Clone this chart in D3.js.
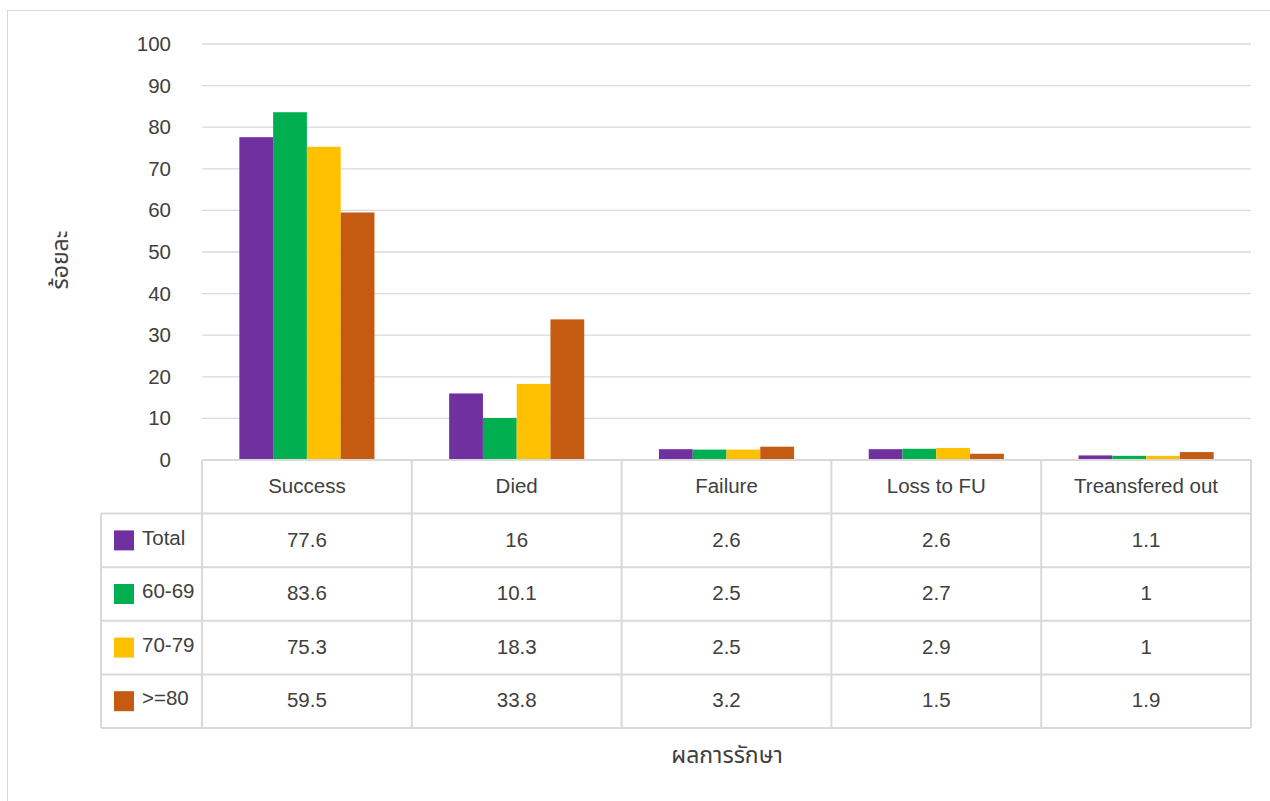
<!DOCTYPE html>
<html><head><meta charset="utf-8">
<script src="https://cdn.jsdelivr.net/npm/d3@7"></script>
<style>
body{margin:0;background:#fff;}
text{font-family:"Liberation Sans","Noto Sans Thai","Noto Sans",Arial,sans-serif;fill:#404040;}
</style></head>
<body><svg id="c" width="1270" height="801"></svg>
<script>
const categories = ["Success","Died","Failure","Loss to FU","Treansfered out"];
const seriesNames = ["Total","60-69","70-79",">=80"];
const total = [77.6,16,2.6,2.6,1.1];
const age6069 = [83.6,10.1,2.5,2.7,1];
const age7079 = [75.3,18.3,2.5,2.9,1];
const age80 = [59.5,33.8,3.2,1.5,1.9];
const yTicks = [0,10,20,30,40,50,60,70,80,90,100];
const colors = ["#7030A0","#00B050","#FFC000","#C55A11"];
const seriesValues = [total, age6069, age7079, age80];

const svg = d3.select("#c");
const L=202, R=1251, T=44, B=460, legL=101, rowH=53.6;
const FS = 20.5;
svg.append("rect").attr("x",7.5).attr("y",10.5).attr("width",1280).attr("height",800)
  .attr("fill","none").attr("stroke","#d9d9d9");

const x = d3.scaleBand().domain(categories).range([L,R]);
const y = d3.scaleLinear().domain([0,100]).range([B,T]);
const bw = x.bandwidth();
const xs = d3.scaleBand().domain(seriesNames).range([bw*0.178,bw*0.822]);

// gridlines
svg.append("g").selectAll("line").data(yTicks.filter(d=>d>0)).join("line")
  .attr("x1",L).attr("x2",R).attr("y1",d=>y(d)).attr("y2",d=>y(d))
  .attr("stroke","#d9d9d9").attr("stroke-width",1.3);

// y axis labels
const ya = svg.append("g").attr("transform",`translate(${L},0)`)
  .call(d3.axisLeft(y).tickValues(yTicks).tickSize(0).tickPadding(31));
ya.select(".domain").remove();
ya.selectAll("text").attr("font-size",FS).style("fill","#404040")
  .attr("font-family","Liberation Sans, Arial, sans-serif");

// bars
seriesNames.forEach((s,i)=>{
  svg.append("g").selectAll("rect").data(categories).join("rect")
    .attr("x",c=>x(c)+xs(s)).attr("width",xs.bandwidth())
    .attr("y",(c,j)=>y(seriesValues[i][j])).attr("height",(c,j)=>B-y(seriesValues[i][j]))
    .attr("fill",colors[i]);
});

// table
const g = svg.append("g");
const stroke = "#d9d9d9", sw = 2;
const tBottom = B + rowH*5;
g.append("line").attr("x1",L).attr("x2",R).attr("y1",B).attr("y2",B).attr("stroke",stroke).attr("stroke-width",sw);
for(let r=1;r<=5;r++){
  g.append("line").attr("x1",legL).attr("x2",R).attr("y1",B+rowH*r).attr("y2",B+rowH*r).attr("stroke",stroke).attr("stroke-width",sw);
}
g.append("line").attr("x1",legL).attr("x2",legL).attr("y1",B+rowH).attr("y2",tBottom).attr("stroke",stroke).attr("stroke-width",sw);
categories.forEach(c=>{
  g.append("line").attr("x1",x(c)).attr("x2",x(c)).attr("y1",B).attr("y2",tBottom).attr("stroke",stroke).attr("stroke-width",sw);
});
g.append("line").attr("x1",R).attr("x2",R).attr("y1",B).attr("y2",tBottom).attr("stroke",stroke).attr("stroke-width",sw);

g.selectAll("text.h").data(categories).join("text").attr("class","h")
  .attr("x",c=>x(c)+bw/2).attr("y",B+rowH/2-1).attr("dy","0.35em")
  .attr("text-anchor","middle").attr("font-size",FS).text(c=>c);
seriesNames.forEach((s,i)=>{
  const cy = B+rowH*(i+1)+rowH/2;
  g.append("rect").attr("x",114).attr("y",cy-10).attr("width",20).attr("height",20).attr("fill",colors[i]);
  g.append("text").attr("x",142).attr("y",cy-3).attr("dy","0.35em").attr("font-size",FS).text(s);
  g.selectAll(null).data(categories).join("text")
    .attr("x",c=>x(c)+bw/2).attr("y",cy-1).attr("dy","0.35em")
    .attr("text-anchor","middle").attr("font-size",FS).text((c,j)=>seriesValues[i][j]);
});

// axis titles
svg.append("text").attr("transform","translate(60,260) rotate(-90)")
  .attr("text-anchor","middle").attr("dy","0.35em").attr("font-size",23).text("ร้อยละ");
svg.append("text").attr("x",727).attr("y",755)
  .attr("text-anchor","middle").attr("dy","0.35em").attr("font-size",23).text("ผลการรักษา");
</script></body></html>
